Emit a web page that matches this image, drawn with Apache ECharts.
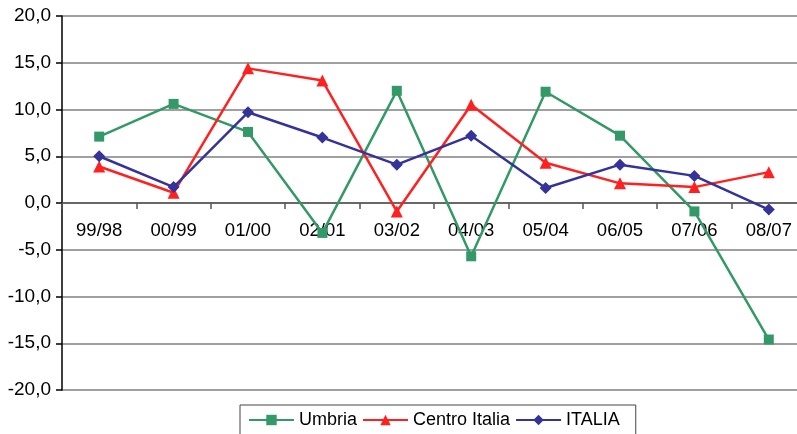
<!DOCTYPE html>
<html>
<head>
<meta charset="utf-8">
<script src="https://cdn.jsdelivr.net/npm/echarts@6/dist/echarts.min.js"></script>
<style>
  html, body { margin: 0; padding: 0; background: #fff; }
  #chart { width: 797px; height: 434px; }
</style>
</head>
<body>
<div id="chart"></div>
<script>
// Annual percentage variations by period
const categories = ['99/98', '00/99', '01/00', '02/01', '03/02', '04/03', '05/04', '06/05', '07/06', '08/07'];
const umbria = [7.1, 10.6, 7.6, -3.2, 12.0, -5.7, 11.9, 7.2, -0.9, -14.6];
const centroItalia = [3.9, 1.1, 14.4, 13.1, -0.9, 10.5, 4.3, 2.1, 1.7, 3.3];
const italia = [5.0, 1.7, 9.7, 7.0, 4.1, 7.2, 1.6, 4.1, 2.9, -0.7];
const yTicks = { min: -20, max: 20, step: 5 };

const FONT = 'Liberation Sans, Arial, sans-serif';
const GRID = { left: 62, top: 16, width: 744, height: 374 };
const chart = echarts.init(document.getElementById('chart'), null, { renderer: 'canvas' });

// category axis sits on the zero line: shift it up from the grid bottom
const zeroOffset = -GRID.height * (0 - yTicks.min) / (yTicks.max - yTicks.min);

function lineSeries(name, data, color, symbol, size) {
  return {
    name, type: 'line', data,
    symbol, symbolSize: size,
    itemStyle: { color },
    lineStyle: { color, width: 2.5 },
    animation: false
  };
}

chart.setOption({
  backgroundColor: '#ffffff',
  animation: false,
  grid: Object.assign({ containLabel: false, outerBoundsMode: 'none' }, GRID),
  legend: {
    left: 240, top: 405,
    padding: [6, 16, 14, 8],
    borderColor: '#444', borderWidth: 1,
    itemGap: 5, itemWidth: 45, itemHeight: 13,
    textStyle: { fontFamily: FONT, fontSize: 18, color: '#000' },
    data: ['Umbria', 'Centro Italia', 'ITALIA']
  },
  xAxis: {
    type: 'category', data: categories, boundaryGap: true,
    offset: zeroOffset,
    axisLine: { onZero: false, lineStyle: { color: '#555', width: 1.5 } },
    axisTick: { show: true, inside: false, length: 6, lineStyle: { color: '#555', width: 1.5 } },
    axisLabel: { fontFamily: FONT, fontSize: 18.5, color: '#000', margin: 18 },
    splitLine: { show: false }
  },
  yAxis: {
    type: 'value', min: yTicks.min, max: yTicks.max, interval: yTicks.step,
    axisLine: { show: true, onZero: false, lineStyle: { color: '#000', width: 1.5 } },
    axisTick: { show: true, length: 6, lineStyle: { color: '#000', width: 1.5 } },
    axisLabel: {
      fontFamily: FONT, fontSize: 19, color: '#000', margin: 11,
      formatter: v => v.toFixed(1).replace('.', ',')
    },
    splitLine: { show: true, lineStyle: { color: '#808080', width: 1.5 } }
  },
  series: [
    lineSeries('Umbria', umbria, '#339966', 'rect', 10),
    lineSeries('Centro Italia', centroItalia, '#ff2020', 'triangle', 12),
    lineSeries('ITALIA', italia, '#333399', 'diamond', 12)
  ]
});
</script>
</body>
</html>
